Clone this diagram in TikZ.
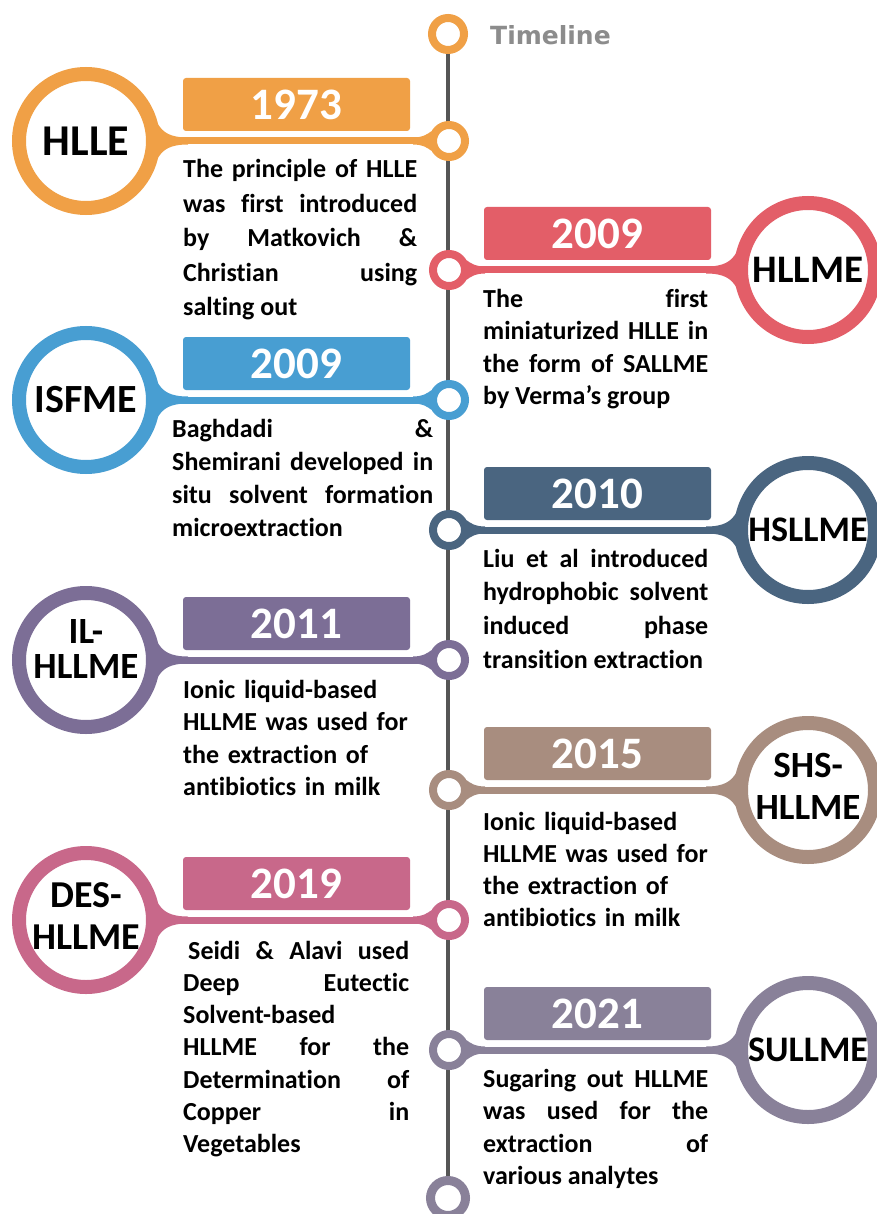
\documentclass[tikz,border=0pt]{standalone}
\usepackage{fontspec}
\setmainfont{Carlito}[Ligatures={NoCommon}]
\newfontfamily\headfont{DejaVu Sans}
\usetikzlibrary{calc}
\definecolor{tlorange}{RGB}{240,160,70}
\definecolor{tlred}{RGB}{227,94,104}
\definecolor{tlblue}{RGB}{72,158,210}
\definecolor{tlnavy}{RGB}{74,101,128}
\definecolor{tlpurple}{RGB}{124,110,150}
\definecolor{tlbrown}{RGB}{168,141,127}
\definecolor{tlpink}{RGB}{200,104,138}
\definecolor{tllilac}{RGB}{137,129,153}
\definecolor{tlspine}{RGB}{85,85,85}
\definecolor{tlhead}{RGB}{140,140,140}
\hyphenpenalty=10000
\tolerance=10000
\newcommand{\fsz}[2]{\fontsize{#1}{#2}\selectfont}
\tikzset{
  ring/.style={circle, draw=#1, fill=white, line width=14pt, minimum size=134pt, inner sep=0pt},
  dot/.style={circle, draw=#1, fill=white, line width=8pt, minimum size=32pt, inner sep=0pt},
  conn/.style={#1, line width=7pt},
  spine/.style={tlspine, line width=3.5pt},
  yearbox/.style={rectangle, rounded corners=3pt, fill=#1, minimum width=227pt, minimum height=53pt,
                  inner sep=0pt, text=white, font=\fsz{45}{45}\bfseries},
  lab/.style={inner sep=0pt, align=center, font=\fsz{38}{42}\bfseries},
  desc/.style={anchor=base west, inner sep=0pt, text width=225pt, align=justify,
               font=\fsz{26}{32.5}\bfseries},
  head/.style={inner sep=0pt, anchor=west, text=tlhead, font=\headfont\bfseries\fsz{25}{25}},
}
% #1 id, #2 y, #3 colour, #4 year, #5 label opts, #6 label, #7 text opts, #8 text
\newcommand{\itemL}[8]{%
  \node[ring=#3] (c#1) at (86,#2) {};
  \node[lab, #5] (l#1) at (c#1) {#6};
  \node[dot=#3] (d#1) at (449,#2) {};
  \draw[conn=#3] (c#1) -- (d#1);
  \fill[#3] (c#1.13) .. controls +(5,8) and +(-18,0) .. ($(c#1.east)+(28,-3.5)$)
    -- ($(c#1.east)+(28,3.5)$) .. controls +(-18,0) and +(5,-8) .. (c#1.-13) -- cycle;
  \fill[#3] ($(d#1.west)+(-16,-3.5)$) .. controls +(10,0) and +(-4,3) .. (d#1.150)
    -- (d#1.210) .. controls +(-4,-3) and +(10,0) .. ($(d#1.west)+(-16,3.5)$) -- cycle;
  \node[yearbox=#3] (y#1) at (296.5,#2-36.5) {#4};
  \node[desc, #7] (t#1) at (183,#2+37) {#8};}
\newcommand{\itemR}[8]{%
  \node[ring=#3] (c#1) at (808,#2) {};
  \node[lab, #5] (l#1) at (c#1) {#6};
  \node[dot=#3] (d#1) at (449,#2) {};
  \draw[conn=#3] (d#1) -- (c#1);
  \fill[#3] (c#1.167) .. controls +(-5,8) and +(18,0) .. ($(c#1.west)+(-28,-3.5)$)
    -- ($(c#1.west)+(-28,3.5)$) .. controls +(18,0) and +(-5,-8) .. (c#1.193) -- cycle;
  \fill[#3] ($(d#1.east)+(16,-3.5)$) .. controls +(-10,0) and +(4,3) .. (d#1.30)
    -- (d#1.-30) .. controls +(4,-3) and +(-10,0) .. ($(d#1.east)+(16,3.5)$) -- cycle;
  \node[yearbox=#3] (y#1) at (597.5,#2-36.5) {#4};
  \node[desc, #7] (t#1) at (483,#2+37) {#8};}

\begin{document}
\begin{tikzpicture}[x=1pt, y=-1pt]
  \useasboundingbox[fill=white] (0,0) rectangle (876,1214);
  % spine
  \node[dot=tlorange] (top) at (448,34) {};
  \node[dot=tllilac, minimum size=35pt, line width=9pt] (bot) at (448,1198) {};
  \draw[spine] (top) -- (bot);
  \node[head] (title) at (490,35) {Timeline};
  % events
  \itemL{1}{141}{tlorange}{1973}{font=\fsz{44}{44}\bfseries}{HLLE}
    {text width=234pt, font=\fsz{26}{34.5}\bfseries}
    {The principle of HLLE\linebreak was first introduced\linebreak by Matkovich \&\linebreak
     Christian using\linebreak salting out}
  \itemR{2}{270}{tlred}{2009}{font=\fsz{39}{42}\bfseries}{HLLME}{}
    {The first\linebreak miniaturized HLLE in\linebreak the form of SALLME\linebreak by Verma’s group}
  \itemL{3}{400}{tlblue}{2009}{font=\fsz{40}{42}\bfseries}{ISFME}
    {text width=261pt, xshift=-11pt, font=\fsz{26}{33.3}\bfseries}
    {Baghdadi \&\linebreak Shemirani developed in\linebreak situ solvent formation\linebreak microextraction}
  \itemR{4}{530}{tlnavy}{2010}{font=\fsz{36}{42}\bfseries}{HSLLME}{font=\fsz{26}{33.7}\bfseries}
    {Liu et al introduced\linebreak hydrophobic solvent\linebreak induced phase\linebreak transition extraction}
  \itemL{5}{660}{tlpurple}{2011}{font=\fsz{37}{35}\bfseries, yshift=11pt}{IL-\\HLLME}
    {align=left, yshift=-1pt}
    {Ionic liquid-based\\ HLLME was used for\\ the extraction of\\ antibiotics in milk}
  \itemR{6}{790}{tlbrown}{2015}{font=\fsz{37}{42}\bfseries, yshift=4pt}{SHS-\\HLLME}
    {align=left, yshift=-3pt, font=\fsz{26}{32}\bfseries}
    {Ionic liquid-based\\ HLLME was used for\\ the extraction of\\ antibiotics in milk}
  \itemL{7}{920}{tlpink}{2019}{font=\fsz{38}{42}\bfseries, yshift=4pt}{DES-\\HLLME}
    {text width=226pt, yshift=-2pt, font=\fsz{26}{32.3}\bfseries}
    {\hspace*{5pt}Seidi \& Alavi used\linebreak Deep Eutectic\linebreak Solvent-based\linebreak
     HLLME for the\linebreak Determination of\linebreak Copper in\linebreak Vegetables}
  \itemR{8}{1050}{tllilac}{2021}{font=\fsz{36}{42}\bfseries}{SULLME}{}
    {Sugaring out HLLME\linebreak was used for the\linebreak extraction of\linebreak various analytes}
\end{tikzpicture}
\end{document}
